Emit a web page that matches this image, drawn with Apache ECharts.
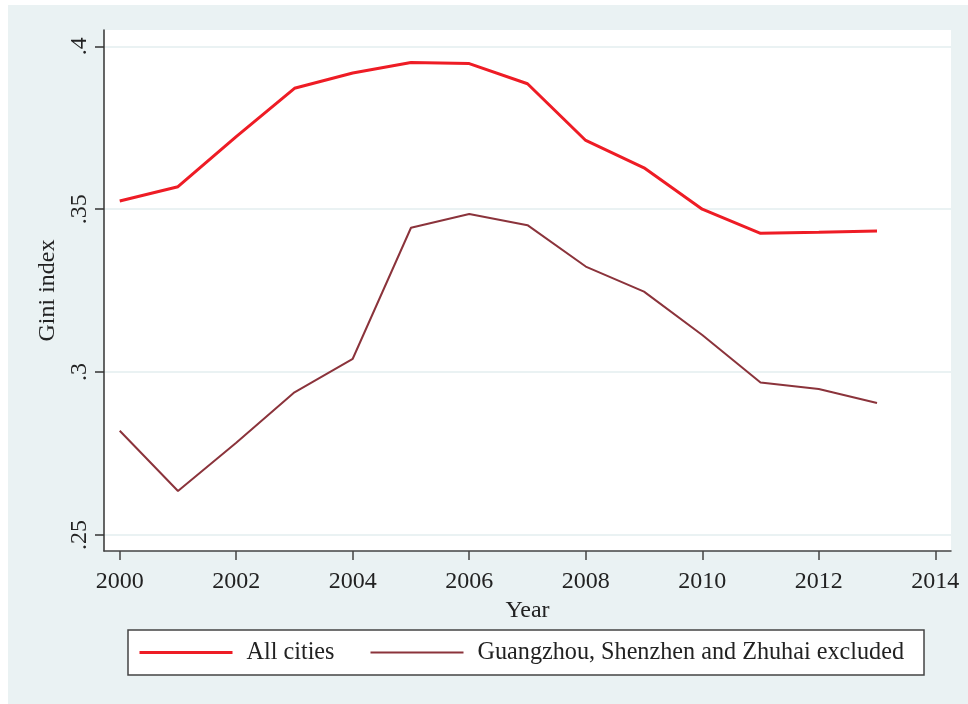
<!DOCTYPE html>
<html>
<head>
<meta charset="utf-8">
<title>Gini index</title>
<script src="https://cdn.jsdelivr.net/npm/echarts@6/dist/echarts.min.js"></script>
<style>
  html, body { margin: 0; padding: 0; background: #fff; }
  #chart { width: 968px; height: 704px; }
</style>
</head>
<body>
<div id="chart"></div>
<script>
// data
const years = [2000, 2001, 2002, 2003, 2004, 2005, 2006, 2007, 2008, 2009, 2010, 2011, 2012, 2013]
const allCities = [0.3525, 0.3569, 0.3723, 0.3871, 0.3918, 0.3950, 0.3947, 0.3885, 0.3711, 0.3627, 0.3500, 0.3426, 0.3429, 0.3433]
const excluded = [0.2820, 0.2635, 0.2783, 0.2938, 0.3041, 0.3443, 0.3485, 0.3451, 0.3324, 0.3247, 0.3114, 0.2968, 0.2948, 0.2905]
const xTicks = [2000, 2002, 2004, 2006, 2008, 2010, 2012, 2014]
const yTicks = [0.25, 0.3, 0.35, 0.4]
const seriesNames = ['All cities', 'Guangzhou, Shenzhen and Zhuhai excluded']

const serif = "'Liberation Serif', 'DejaVu Serif', serif"
const txt = '#222'
const bg = '#eaf2f3'
const red = '#ee1c25'
const maroon = '#8b333b'

const chart = echarts.init(document.getElementById('chart'))
chart.setOption({
  backgroundColor: '#fff',
  animation: false,
  textStyle: { fontFamily: serif, color: txt },
  graphic: [
    // Stata-like outer panel
    { type: 'rect', left: 8, top: 5, z: -10, shape: { width: 960, height: 699 }, style: { fill: bg } }
  ],
  grid: {
    left: 104, top: 30, right: 17, bottom: 153,
    show: true, backgroundColor: '#fff', borderWidth: 0
  },
  legend: {
    left: 128, top: 630,
    padding: [10, 20, 10, 10],
    backgroundColor: '#fff',
    borderColor: '#444', borderWidth: 1.5,
    itemWidth: 93, itemHeight: 14, itemGap: 35,
    itemStyle: { opacity: 0 }, // no dot on the legend line
    textStyle: { fontFamily: serif, fontSize: 24.2, color: txt, padding: [0, 0, 0, 9], lineHeight: 25 },
    data: [
      { name: seriesNames[0], lineStyle: { color: red, width: 3 } },
      { name: seriesNames[1], lineStyle: { color: maroon, width: 2 } }
    ]
  },
  xAxis: {
    type: 'value',
    min: 1999.73, max: 2014.27,
    name: 'Year', nameLocation: 'middle', nameGap: 37,
    nameTextStyle: { fontFamily: serif, fontSize: 24, color: txt },
    axisLine: { show: true, lineStyle: { color: '#444', width: 1.5 } },
    axisTick: { show: true, length: 9, customValues: xTicks, lineStyle: { color: '#444', width: 1.5 } },
    axisLabel: { customValues: xTicks, margin: 19, fontFamily: serif, fontSize: 24, color: txt, formatter: v => String(v) },
    splitLine: { show: false }
  },
  yAxis: {
    type: 'value',
    min: 0.2451, max: 0.405,
    name: 'Gini index', nameLocation: 'middle', nameGap: 40,
    nameTextStyle: { fontFamily: serif, fontSize: 24, color: txt },
    axisLine: { show: true, lineStyle: { color: '#333', width: 1.5 } },
    axisTick: { show: true, length: 9, customValues: yTicks, lineStyle: { color: '#333', width: 1.5 } },
    axisLabel: {
      customValues: yTicks, rotate: 90, margin: 12,
      fontFamily: serif, fontSize: 24, color: txt,
      formatter: v => String(+v.toFixed(2)).replace(/^0/, '')
    },
    splitLine: { show: true, lineStyle: { color: bg, width: 2 } }
  },
  series: [
    {
      name: seriesNames[0], type: 'line', symbol: 'none',
      data: years.map((y, i) => [y, allCities[i]]),
      lineStyle: { color: red, width: 3 },
      itemStyle: { color: red }
    },
    {
      name: seriesNames[1], type: 'line', symbol: 'none',
      data: years.map((y, i) => [y, excluded[i]]),
      lineStyle: { color: maroon, width: 2 },
      itemStyle: { color: maroon }
    }
  ]
})
</script>
</body>
</html>
